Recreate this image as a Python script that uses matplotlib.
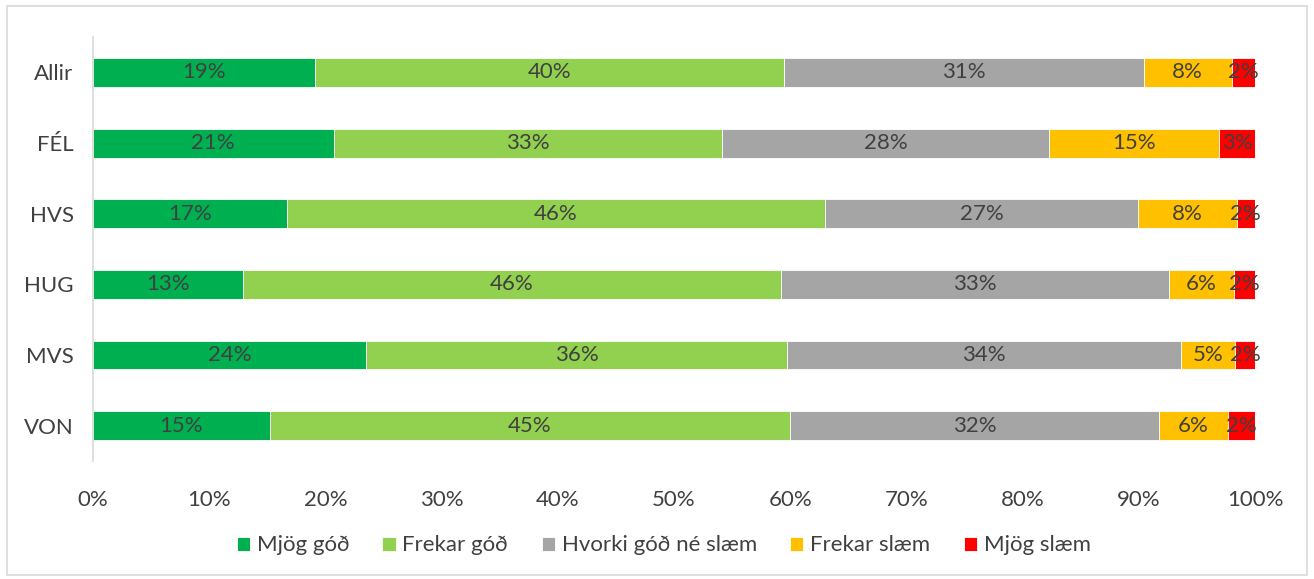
import matplotlib.pyplot as plt
from matplotlib.patches import Rectangle

# Rating shares per group (percent of respondents)
groups = ['Allir', 'FÉL', 'HVS', 'HUG', 'MVS', 'VON']
series = ['Mjög góð', 'Frekar góð', 'Hvorki góð né slæm', 'Frekar slæm', 'Mjög slæm']
mjog_god = [19.1, 20.7, 16.7, 12.9, 23.5, 15.2]
frekar_god = [40.4, 33.4, 46.3, 46.3, 36.2, 44.8]
hvorki = [30.9, 28.2, 26.9, 33.4, 33.9, 31.7]
frekar_slaem = [7.6, 14.6, 8.5, 5.6, 4.7, 6.0]
mjog_slaem = [2.0, 3.1, 1.6, 1.8, 1.7, 2.3]
colors = ['#00B050', '#92D050', '#A5A5A5', '#FFC000', '#FF0000']

values = [mjog_god, frekar_god, hvorki, frekar_slaem, mjog_slaem]
text_color = '#404040'

plt.rcParams['font.family'] = ['Lato', 'DejaVu Sans']

fig = plt.figure(figsize=(13.14, 5.79), dpi=100)
ax = fig.add_axes([0.0708, 0.2038, 0.8844, 0.7322])

y = list(range(len(groups)))
left = [0.0] * len(groups)
for name, vals, col in zip(series, values, colors):
    bars = ax.barh(y, vals, left=left, height=0.41, color=col,
                   edgecolor='white', linewidth=0.6, label=name)
    labels = ['%d%%' % round(v) for v in vals]
    ax.bar_label(bars, labels=labels, label_type='center',
                 fontsize=16, color=text_color)
    left = [l + v for l, v in zip(left, vals)]

ax.set_xlim(0, 100)
ax.set_ylim(len(groups) - 0.5, -0.5)
ax.set_yticks(y)
ax.set_yticklabels(groups)
ax.set_xticks(range(0, 101, 10))
ax.set_xticklabels(['%d%%' % t for t in range(0, 101, 10)])
ax.tick_params(axis='both', length=0, labelsize=16, labelcolor=text_color)
ax.tick_params(axis='x', pad=21)
ax.tick_params(axis='y', pad=14)

for side in ['top', 'right', 'bottom']:
    ax.spines[side].set_visible(False)
ax.spines['left'].set_color('#D9D9D9')
ax.spines['left'].set_linewidth(1.2)

leg = fig.legend(loc='center', bbox_to_anchor=(0.505, 0.058), ncol=5,
                 frameon=False, fontsize=16, handlelength=0.6,
                 handleheight=0.6, handletextpad=0.3, columnspacing=1.5)
for t in leg.get_texts():
    t.set_color(text_color)

# light frame around the whole chart
fig.patches.append(Rectangle((0.005, 0.007), 0.99, 0.982, transform=fig.transFigure,
                             fill=False, edgecolor='#D9D9D9', linewidth=1.2))

fig.savefig('out.png', dpi=100)
